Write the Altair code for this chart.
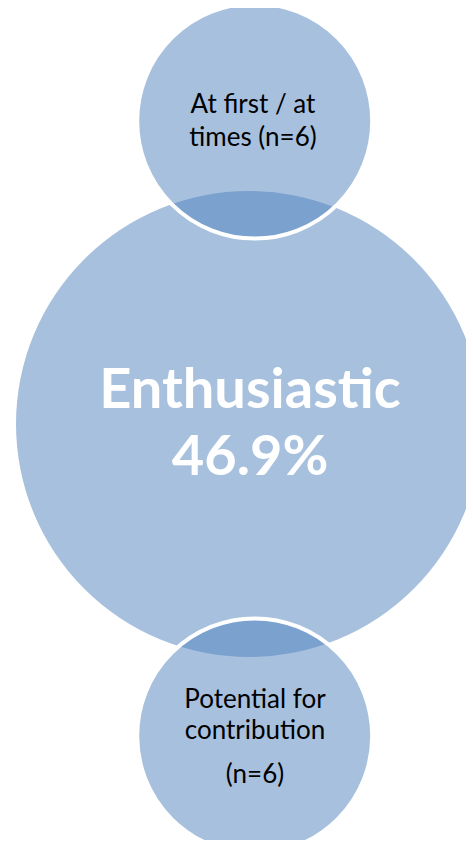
import altair as alt
import pandas as pd

# ---- data ----
categories = ["Enthusiastic", "At first / at times", "Potential for contribution"]
value_labels = ["46.9%", "(n=6)", "(n=6)"]
text_lines = [
    ["Enthusiastic", "46.9%"],
    ["At first / at", "times (n=6)"],
    ["Potential for", "contribution", "(n=6)"],
]

# ---- layout (chart pixel space, y downward) ----
W, H = 458, 832
centers_x = [241, 246.7, 246.7]
centers_y = [416, 113, 728]
radii = [233, 117.5, 117.5]
line_x = [242, 245, 247]
line_y = [[400, 467], [105, 138], [700, 731, 775]]
font_sizes = [56, 26, 26]
text_colors = ["white", "black", "black"]
weights = ["bold", "normal", "normal"]

circ = pd.DataFrame({
    "category": categories,
    "label": value_labels,
    "cx": centers_x,
    "cy": centers_y,
    "size": [(2 * r) ** 2 for r in radii],
    "order": [0, 1, 2],
})

xs = alt.Scale(domain=[0, W], range=[0, W], nice=False, zero=False)
ys = alt.Scale(domain=[0, H], range=[0, H], nice=False, zero=False)

base = alt.Chart(circ)

big = base.transform_filter("datum.order == 0").mark_circle(
    color="#4F81BD", opacity=1, fillOpacity=0.5, strokeWidth=0, clip=True
).encode(
    x=alt.X("cx:Q", scale=xs, axis=None),
    y=alt.Y("cy:Q", scale=ys, axis=None),
    size=alt.Size("size:Q", scale=None, legend=None),
)

small = base.transform_filter("datum.order > 0").mark_circle(
    fill="#4F81BD", opacity=1, fillOpacity=0.5, stroke="white",
    strokeOpacity=1, strokeWidth=4, clip=True
).encode(
    x=alt.X("cx:Q", scale=xs, axis=None),
    y=alt.Y("cy:Q", scale=ys, axis=None),
    size=alt.Size("size:Q", scale=None, legend=None),
    order=alt.Order("order:Q"),
)

layers = [big, small]
for i, lines in enumerate(text_lines):
    df = pd.DataFrame({
        "text": lines,
        "tx": [line_x[i]] * len(lines),
        "ty": line_y[i],
    })
    layers.append(
        alt.Chart(df).mark_text(
            font="Lato", fontSize=font_sizes[i], fontWeight=weights[i],
            color=text_colors[i], align="center", baseline="alphabetic",
        ).encode(
            x=alt.X("tx:Q", scale=xs, axis=None),
            y=alt.Y("ty:Q", scale=ys, axis=None),
            text="text:N",
        )
    )

chart = alt.layer(*layers).properties(
    width=W, height=H, padding=0, autosize=alt.AutoSizeParams(type="none")
).configure_view(stroke=None)

chart.save("out.html", embed_options={"renderer": "svg", "actions": False})
